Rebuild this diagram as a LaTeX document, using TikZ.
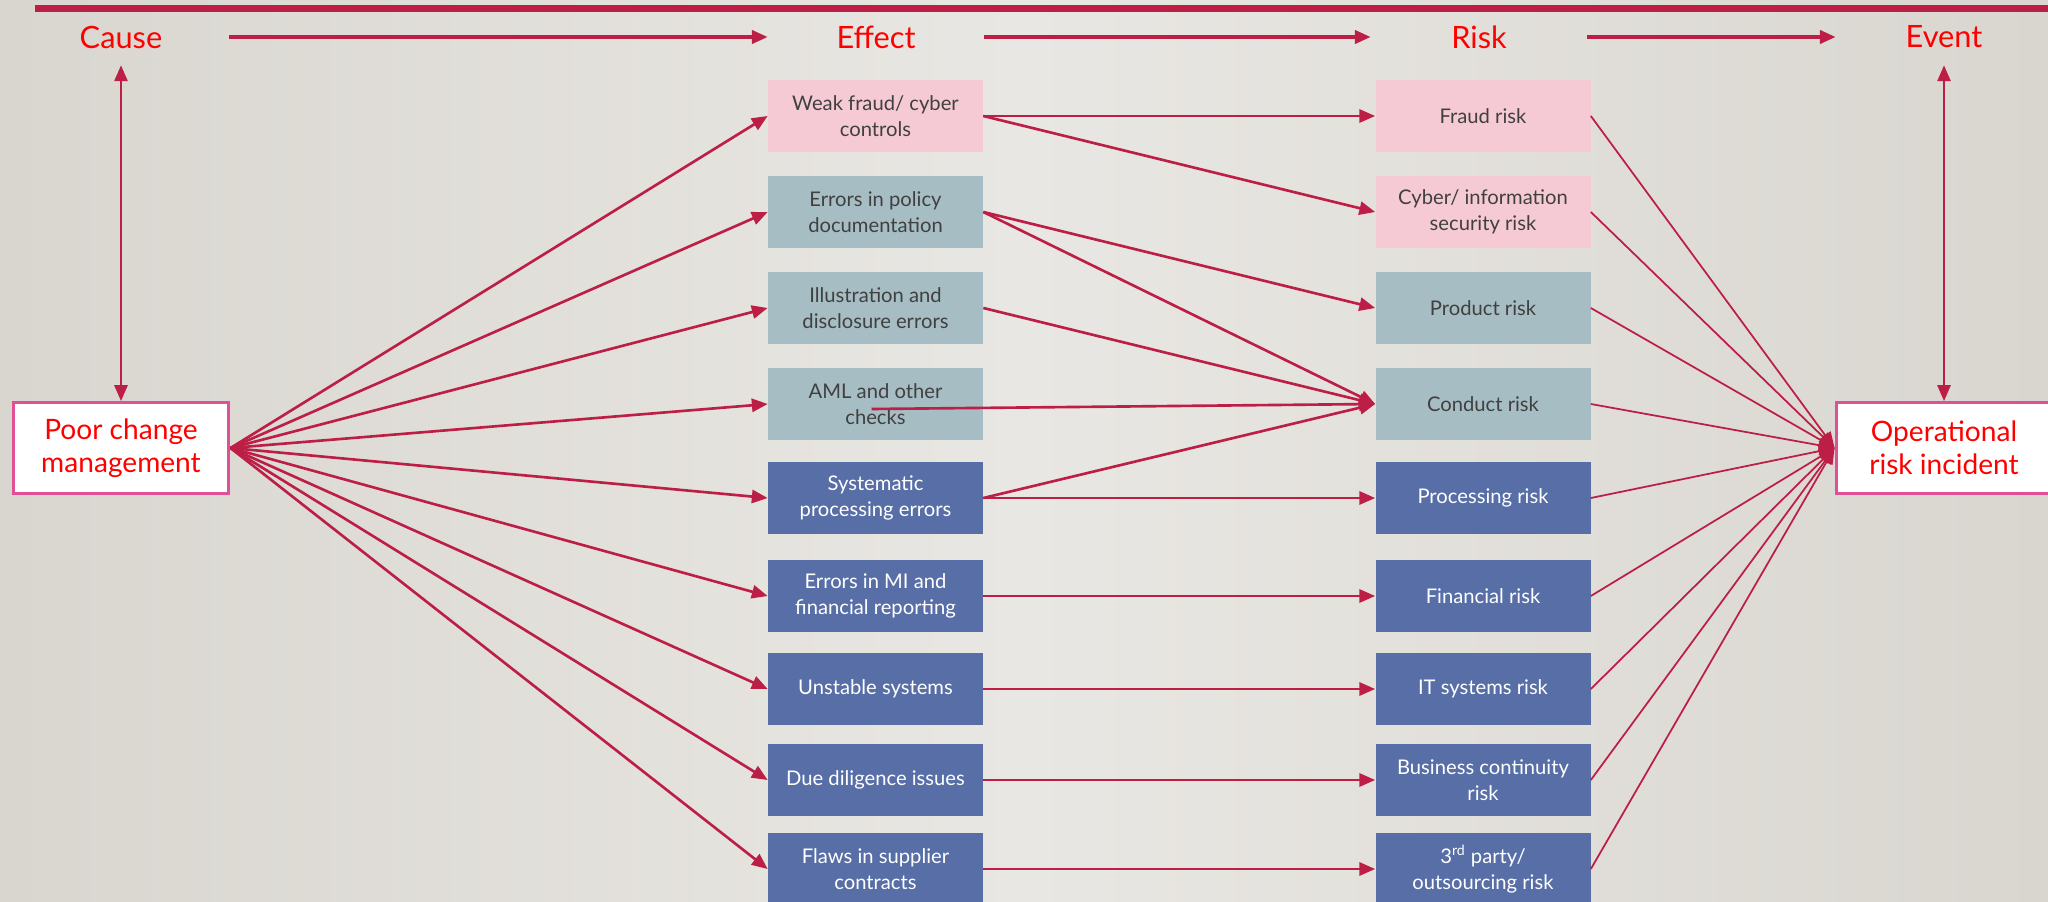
\documentclass[tikz,border=0pt]{standalone}
\usepackage{fontspec}
\setmainfont{Lato}
\usepackage{xcolor}
\usetikzlibrary{arrows.meta,positioning}
\definecolor{arrred}{RGB}{188,30,70}
\definecolor{headred}{RGB}{255,0,0}
\definecolor{boxpink}{RGB}{246,202,212}
\definecolor{boxgrey}{RGB}{166,189,196}
\definecolor{boxblue}{RGB}{87,110,166}
\definecolor{edgepink}{RGB}{224,80,150}
\definecolor{txtgrey}{RGB}{64,64,64}
\definecolor{bgside}{RGB}{217,214,208}
\definecolor{bgmid}{RGB}{233,231,227}

\begin{document}
\begin{tikzpicture}[x=0.02cm, y=-0.02cm,
    head/.style={text=headred, font=\fontsize{17.5}{20}\selectfont, minimum width=4.32cm, minimum height=1.12cm, inner sep=0pt},
    cell/.style={minimum width=4.3cm, minimum height=1.44cm, align=center, inner sep=1pt, font=\fontsize{11.5}{15}\selectfont},
    pinkcell/.style={cell, fill=boxpink, text=txtgrey},
    greycell/.style={cell, fill=boxgrey, text=txtgrey},
    bluecell/.style={cell, fill=boxblue, text=white},
    endbox/.style={draw=edgepink, line width=1.7pt, fill=white, text=headred, align=center, minimum width=4.32cm, minimum height=1.82cm, font=\fontsize{16}{19}\selectfont},
    arr/.style={arrred, line width=1.5pt, -{Triangle[length=9pt,width=7.5pt]}},
    thinarr/.style={arr, line width=1pt},
    harr/.style={arr, line width=2pt}]
    \useasboundingbox (0,0) rectangle (2048,902);
    \shade[left color=bgside, right color=bgside, middle color=bgmid] (0,0) rectangle (2048,902);
    \draw[arrred, line width=4pt] (35,8.5) -- (2048,8.5);

    % Header row
    \node[head] (cause) at (121,37) {Cause};
    \node[head] (effect) at (876,37) {Effect};
    \node[head] (risk) at (1479,37) {Risk};
    \node[head] (event) at (1944,37) {Event};
    \draw[harr] (cause) -- (effect);
    \draw[harr] (effect) -- (risk);
    \draw[harr] (risk) -- (event);

    % Cause and event
    \node[endbox] (poor) at (121,448) {Poor change\\management};
    \node[endbox] (op) at (1944,448) {Operational\\risk incident};
    \draw[arr, line width=1.2pt, {Triangle[length=9pt,width=7.5pt]}-{Triangle[length=9pt,width=7.5pt]}] (cause) -- (poor);
    \draw[arr, line width=1.2pt, {Triangle[length=9pt,width=7.5pt]}-{Triangle[length=9pt,width=7.5pt]}] (event) -- (op);

    % Effects
    \node[pinkcell] (e1) at (875.5,116) {Weak fraud/ cyber\\controls};
    \node[greycell] (e2) at (875.5,212) {Errors in policy\\documentation};
    \node[greycell] (e3) at (875.5,308) {Illustration and\\disclosure errors};
    \node[greycell] (e4) at (875.5,404) {AML and other\\checks};
    \node[bluecell] (e5) at (875.5,498) {Systematic\\processing errors};
    \node[bluecell] (e6) at (875.5,596) {Errors in MI and\\financial reporting};
    \node[bluecell] (e7) at (875.5,689) {Unstable systems};
    \node[bluecell] (e8) at (875.5,780) {Due diligence issues};
    \node[bluecell] (e9) at (875.5,869) {Flaws in supplier\\contracts};

    % Risks
    \node[pinkcell] (r1) at (1483,116) {Fraud risk};
    \node[pinkcell] (r2) at (1483,212) {Cyber/ information\\security risk};
    \node[greycell] (r3) at (1483,308) {Product risk};
    \node[greycell] (r4) at (1483,404) {Conduct risk};
    \node[bluecell] (r5) at (1483,498) {Processing risk};
    \node[bluecell] (r6) at (1483,596) {Financial risk};
    \node[bluecell] (r7) at (1483,689) {IT systems risk};
    \node[bluecell] (r8) at (1483,780) {Business continuity\\risk};
    \node[bluecell] (r9) at (1483,869) {3\textsuperscript{rd} party/\\outsourcing risk};

    % Links
    \foreach \n in {1,...,9} {
        \draw[arr] (poor.east) -- (e\n.west);
        \draw[thinarr] (r\n.east) -- (op.west);
    }
    \foreach \a/\b in {1/1,1/2,2/3,2/4,3/4,5/4,5/5,6/6,7/7,8/8,9/9} {
        \draw[arr] (e\a.east) -- (r\b.west);
    }
    \draw[arr] ([shift={(-4,5)}]e4.center) -- (r4.west);
\end{tikzpicture}
\end{document}
